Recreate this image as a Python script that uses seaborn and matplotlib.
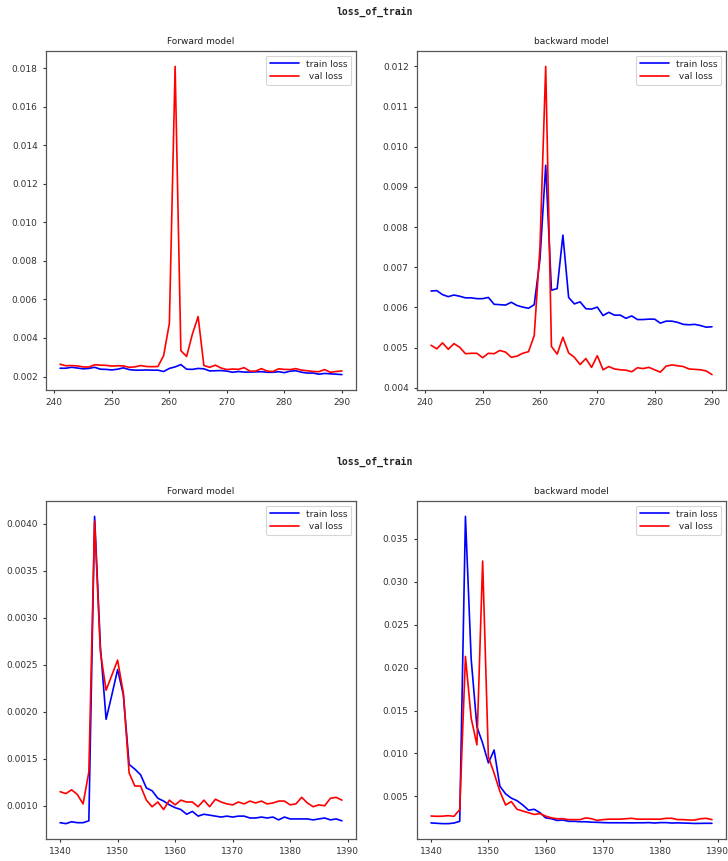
import matplotlib
matplotlib.use("Agg")
import matplotlib.pyplot as plt
import seaborn as sns
import pandas as pd

# ---------------- data ----------------
epochs_top = list(range(241, 291))
epochs_bottom = list(range(1340, 1390))

fwd1_train = [0.00243, 0.00243, 0.00248, 0.00244, 0.00240, 0.00242, 0.00248, 0.00238, 0.00237, 0.00234,
              0.00238, 0.00245, 0.00236, 0.00233, 0.00233, 0.00234, 0.00233, 0.00233, 0.00226, 0.00242,
              0.00250, 0.00262, 0.00238, 0.00237, 0.00242, 0.00240, 0.00229, 0.00230, 0.00231, 0.00228,
              0.00222, 0.00226, 0.00223, 0.00223, 0.00224, 0.00225, 0.00222, 0.00222, 0.00225, 0.00220,
              0.00228, 0.00230, 0.00222, 0.00218, 0.00218, 0.00212, 0.00216, 0.00214, 0.00212, 0.00210]
fwd1_val = [0.00264, 0.00256, 0.00257, 0.00255, 0.00250, 0.00249, 0.00261, 0.00259, 0.00258, 0.00254,
            0.00256, 0.00255, 0.00248, 0.00250, 0.00257, 0.00252, 0.00251, 0.00252, 0.00308, 0.00476,
            0.01810, 0.00334, 0.00304, 0.00420, 0.00511, 0.00257, 0.00248, 0.00259, 0.00244, 0.00236,
            0.00239, 0.00237, 0.00246, 0.00228, 0.00228, 0.00241, 0.00228, 0.00226, 0.00240, 0.00237,
            0.00236, 0.00241, 0.00233, 0.00230, 0.00226, 0.00225, 0.00236, 0.00222, 0.00226, 0.00229]

bwd1_train = [0.00641, 0.00642, 0.00632, 0.00627, 0.00631, 0.00628, 0.00624, 0.00624, 0.00622, 0.00622,
              0.00625, 0.00608, 0.00607, 0.00606, 0.00613, 0.00605, 0.00601, 0.00598, 0.00607, 0.00720,
              0.00954, 0.00643, 0.00647, 0.00780, 0.00625, 0.00609, 0.00614, 0.00597, 0.00596, 0.00601,
              0.00580, 0.00588, 0.00581, 0.00581, 0.00573, 0.00579, 0.00570, 0.00570, 0.00571, 0.00571,
              0.00561, 0.00566, 0.00566, 0.00563, 0.00558, 0.00557, 0.00558, 0.00555, 0.00551, 0.00552]
bwd1_val = [0.00506, 0.00497, 0.00512, 0.00496, 0.00510, 0.00501, 0.00485, 0.00486, 0.00486, 0.00475,
            0.00486, 0.00485, 0.00493, 0.00489, 0.00476, 0.00479, 0.00486, 0.00490, 0.00530, 0.00750,
            0.01200, 0.00503, 0.00484, 0.00526, 0.00487, 0.00476, 0.00458, 0.00473, 0.00451, 0.00480,
            0.00445, 0.00453, 0.00447, 0.00445, 0.00444, 0.00440, 0.00450, 0.00448, 0.00451, 0.00445,
            0.00439, 0.00454, 0.00457, 0.00455, 0.00453, 0.00447, 0.00446, 0.00445, 0.00442, 0.00433]

fwd2_train = [0.00082, 0.00081, 0.00083, 0.00082, 0.00082, 0.00084, 0.00408, 0.00270, 0.00192, 0.00218,
              0.00245, 0.00218, 0.00144, 0.00139, 0.00133, 0.00119, 0.00116, 0.00108, 0.00105, 0.00101,
              0.00098, 0.00096, 0.00091, 0.00094, 0.00089, 0.00091, 0.00090, 0.00089, 0.00088, 0.00089,
              0.00088, 0.00089, 0.00089, 0.00087, 0.00087, 0.00088, 0.00087, 0.00088, 0.00085, 0.00088,
              0.00086, 0.00086, 0.00086, 0.00086, 0.00085, 0.00086, 0.00087, 0.00085, 0.00086, 0.00084]
fwd2_val = [0.00115, 0.00113, 0.00117, 0.00112, 0.00102, 0.00136, 0.00403, 0.00264, 0.00223, 0.00239,
            0.00255, 0.00220, 0.00135, 0.00121, 0.00121, 0.00106, 0.00099, 0.00104, 0.00096, 0.00106,
            0.00101, 0.00106, 0.00104, 0.00104, 0.00099, 0.00106, 0.00099, 0.00107, 0.00104, 0.00102,
            0.00101, 0.00104, 0.00102, 0.00105, 0.00103, 0.00105, 0.00102, 0.00103, 0.00105, 0.00105,
            0.00101, 0.00102, 0.00109, 0.00103, 0.00099, 0.00101, 0.00100, 0.00108, 0.00109, 0.00106]

bwd2_train = [0.00191, 0.00187, 0.00183, 0.00183, 0.00190, 0.00210, 0.03760, 0.02100, 0.01310, 0.01120,
              0.00890, 0.01040, 0.00620, 0.00530, 0.00480, 0.00450, 0.00400, 0.00340, 0.00350, 0.00310,
              0.00250, 0.00240, 0.00220, 0.00225, 0.00210, 0.00210, 0.00205, 0.00205, 0.00200, 0.00198,
              0.00195, 0.00193, 0.00193, 0.00193, 0.00193, 0.00192, 0.00193, 0.00193, 0.00195, 0.00190,
              0.00195, 0.00195, 0.00190, 0.00192, 0.00190, 0.00188, 0.00185, 0.00186, 0.00187, 0.00187]
bwd2_val = [0.00272, 0.00268, 0.00270, 0.00276, 0.00268, 0.00346, 0.02130, 0.01410, 0.01100, 0.03240,
            0.00960, 0.00770, 0.00560, 0.00400, 0.00440, 0.00350, 0.00330, 0.00310, 0.00290, 0.00300,
            0.00270, 0.00250, 0.00240, 0.00240, 0.00230, 0.00230, 0.00230, 0.00250, 0.00240, 0.00220,
            0.00230, 0.00235, 0.00235, 0.00235, 0.00240, 0.00245, 0.00235, 0.00235, 0.00235, 0.00235,
            0.00235, 0.00245, 0.00245, 0.00230, 0.00230, 0.00225, 0.00225, 0.00240, 0.00245, 0.00230]

suptitle = "loss_of_train"
titles = ["Forward model", "backward model"]
labels = ["train loss", " val loss"]
colors = ["blue", "red"]

# ---------------- style ----------------
sns.set_style("ticks")
plt.rcParams["font.family"] = ["DejaVu Sans"]
plt.rcParams["axes.edgecolor"] = "#555555"
plt.rcParams["axes.linewidth"] = 0.9
plt.rcParams["xtick.color"] = "#333333"
plt.rcParams["ytick.color"] = "#333333"
plt.rcParams["xtick.major.size"] = 2.5
plt.rcParams["ytick.major.size"] = 2.5

W, H = 728, 861
fig = plt.figure(figsize=(W / 100, H / 100), dpi=100)


def rect(x0, y0, x1, y1):
    return [x0 / W, 1 - y1 / H, (x1 - x0) / W, (y1 - y0) / H]


panels = [
    (rect(46, 51, 356, 390), epochs_top, fwd1_train, fwd1_val, titles[0]),
    (rect(417, 51, 726, 390), epochs_top, bwd1_train, bwd1_val, titles[1]),
    (rect(46, 501, 356, 839), epochs_bottom, fwd2_train, fwd2_val, titles[0]),
    (rect(417, 501, 726, 839), epochs_bottom, bwd2_train, bwd2_val, titles[1]),
]

for r, ep, tr, va, title in panels:
    ax = fig.add_axes(r)
    df = pd.DataFrame({"epoch": ep, "train": tr, "val": va})
    sns.lineplot(data=df, x="epoch", y="train", ax=ax, color=colors[0], lw=1.2, label=labels[0])
    sns.lineplot(data=df, x="epoch", y="val", ax=ax, color=colors[1], lw=1.2, label=labels[1])
    ax.set_xlabel("")
    ax.set_ylabel("")
    ax.set_title(title, fontsize=6.5, pad=5, color="#222222")
    ax.tick_params(labelsize=6.5, width=0.8)
    leg = ax.legend(loc="upper right", fontsize=6.5, handlelength=3.2, handletextpad=0.8,
                    labelspacing=0.35, borderpad=0.45, framealpha=0.8, fancybox=True)
    leg.get_frame().set_edgecolor("#cccccc")
    leg.get_frame().set_linewidth(0.8)
    for line in leg.get_lines():
        line.set_linewidth(1.2)

fig.text(375 / W, 1 - 12 / H, suptitle, ha="center", va="center",
         family="DejaVu Sans Mono", weight="bold", size=7, color="#222222")
fig.text(375 / W, 1 - 462 / H, suptitle, ha="center", va="center",
         family="DejaVu Sans Mono", weight="bold", size=7, color="#222222")

fig.savefig("out.png", dpi=100)
